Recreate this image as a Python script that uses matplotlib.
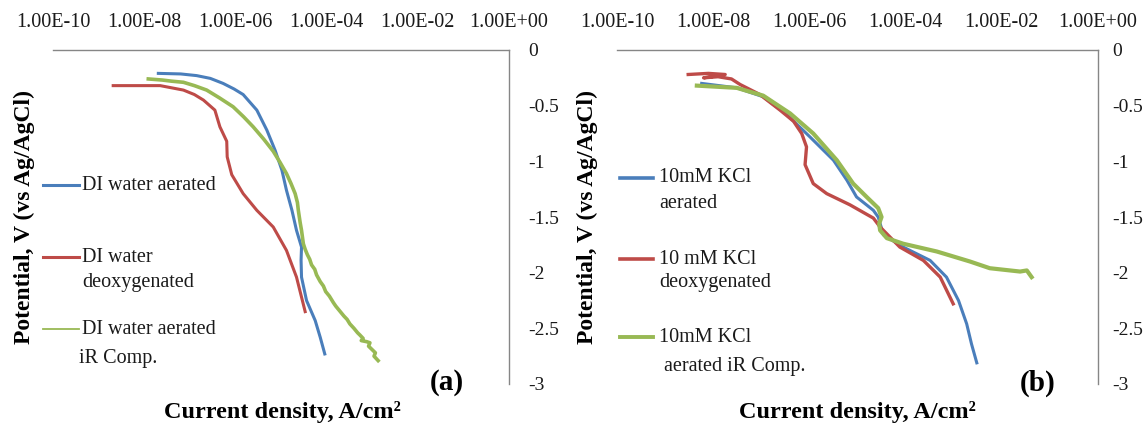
import numpy as np
import matplotlib
matplotlib.use('Agg')
import matplotlib.pyplot as plt
from matplotlib.lines import Line2D
from matplotlib.ticker import FixedLocator, NullLocator

plt.rcParams['font.family'] = ['Liberation Serif', 'DejaVu Serif']
plt.rcParams['axes.unicode_minus'] = False

# ---- data: log10(current density) and potential (V) ----
# panel (a) DI water
a_blue_log = [-7.69, -7.20, -6.85, -6.55, -6.27, -6.03, -5.83, -5.53, -5.31, -5.13,
              -4.98, -4.88, -4.76, -4.66, -4.55, -4.56, -4.55, -4.44, -4.25, -4.14, -4.04]
a_blue_v = [-0.21, -0.215, -0.23, -0.255, -0.30, -0.35, -0.40, -0.54, -0.72, -0.90,
            -1.08, -1.26, -1.44, -1.62, -1.77, -1.89, -2.04, -2.25, -2.43, -2.58, -2.73]

a_red_log = [-8.68, -7.65, -7.14, -6.90, -6.70, -6.45, -6.34, -6.19, -6.18, -6.08,
             -5.83, -5.53, -5.17, -4.88, -4.66, -4.47]
a_red_v = [-0.32, -0.32, -0.36, -0.40, -0.45, -0.54, -0.69, -0.82, -0.96, -1.12,
           -1.29, -1.44, -1.59, -1.80, -2.04, -2.35]

a_green_log = [-7.91, -7.60, -7.40, -7.14, -6.90, -6.63, -6.35, -6.05, -5.82, -5.61,
               -5.38, -5.17, -5.02, -4.88, -4.78, -4.69, -4.64, -4.62, -4.58, -4.55,
               -4.51, -4.47, -4.42, -4.37, -4.33, -4.26, -4.22, -4.14, -4.07, -4.02,
               -3.94, -3.85, -3.80, -3.70, -3.62, -3.55, -3.49, -3.40, -3.32, -3.27,
               -3.20, -3.24, -3.12, -3.05, -3.08, -2.98, -2.93, -2.96, -2.87]
a_green_v = [-0.26, -0.27, -0.28, -0.29, -0.32, -0.36, -0.43, -0.51, -0.60, -0.69,
             -0.80, -0.91, -1.01, -1.11, -1.20, -1.29, -1.37, -1.44, -1.55, -1.62,
             -1.74, -1.79, -1.84, -1.88, -1.93, -1.97, -2.02, -2.08, -2.12, -2.17,
             -2.21, -2.27, -2.30, -2.35, -2.39, -2.42, -2.46, -2.50, -2.54, -2.56,
             -2.59, -2.61, -2.62, -2.63, -2.66, -2.70, -2.72, -2.75, -2.79]

# panel (b) 10 mM KCl
b_blue_log = [-8.24, -7.51, -6.96, -6.47, -5.99, -5.50, -5.22, -5.02, -4.67, -4.57,
              -4.46, -4.05, -3.49, -3.15, -2.90, -2.73, -2.63, -2.52]
b_blue_v = [-0.30, -0.34, -0.42, -0.58, -0.78, -0.99, -1.17, -1.32, -1.44, -1.50,
            -1.66, -1.77, -1.89, -2.04, -2.25, -2.46, -2.64, -2.81]

b_red_log = [-8.52, -8.10, -7.75, -8.20, -7.90, -7.62, -7.44, -7.03, -6.61, -6.33,
             -6.16, -6.06, -6.09, -5.92, -5.64, -5.16, -4.67, -4.53, -4.12, -3.63,
             -3.28, -3.01]
b_red_v = [-0.22, -0.21, -0.22, -0.25, -0.24, -0.26, -0.31, -0.40, -0.54, -0.64,
           -0.75, -0.87, -1.03, -1.20, -1.29, -1.39, -1.51, -1.59, -1.77, -1.89,
           -2.04, -2.28]

b_green_log = [-8.34, -7.51, -6.96, -6.40, -5.92, -5.43, -5.09, -4.81, -4.57, -4.50,
               -4.55, -4.53, -4.39, -4.05, -3.35, -2.66, -2.25, -1.62, -1.48, -1.38]
b_green_v = [-0.32, -0.34, -0.41, -0.57, -0.75, -0.99, -1.20, -1.32, -1.42, -1.50,
             -1.56, -1.62, -1.69, -1.74, -1.81, -1.90, -1.96, -1.99, -1.98, -2.04]

x_ticks = [1e-10, 1e-8, 1e-6, 1e-4, 1e-2, 1e0]
x_tick_labels = ['1.00E-10', '1.00E-08', '1.00E-06', '1.00E-04', '1.00E-02', '1.00E+00']
y_ticks = [0, -0.5, -1, -1.5, -2, -2.5, -3]
y_tick_labels = ['0', '-0.5', '-1', '-1.5', '-2', '-2.5', '-3']

BLUE = '#4A7EBB'
RED = '#BE4B48'
GREEN = '#98B954'
GRAY = '#868686'

W, H = 1147, 424
fig = plt.figure(figsize=(W / 100, H / 100), dpi=100)


def setup(ax, ypad):
    ax.set_xscale('log')
    ax.set_xlim(1e-10, 1e0)
    ax.set_ylim(-3, 0)
    ax.xaxis.set_major_locator(FixedLocator(x_ticks))
    ax.xaxis.set_minor_locator(NullLocator())
    ax.set_xticklabels(x_tick_labels)
    ax.set_yticks(y_ticks)
    ax.set_yticklabels(y_tick_labels)
    ax.xaxis.tick_top()
    ax.yaxis.tick_right()
    ax.tick_params(axis='x', length=0, pad=13, labelsize=14.5, colors='#1a1a1a')
    ax.tick_params(axis='y', length=0, pad=ypad, labelsize=14, colors='#1a1a1a')
    for s in ['left', 'bottom']:
        ax.spines[s].set_visible(False)
    for s in ['top', 'right']:
        ax.spines[s].set_color(GRAY)
        ax.spines[s].set_linewidth(1.0)
    ax.patch.set_alpha(0)


def px(x0, y0, w, h):
    return [x0 / W, 1 - (y0 + h) / H, w / W, h / H]


ax1 = fig.add_axes(px(53, 50, 456, 334))
ax2 = fig.add_axes(px(617, 50, 481, 334))
setup(ax1, 14)
setup(ax2, 10.5)

ax1.plot(10 ** np.array(a_blue_log), a_blue_v, color=BLUE, lw=2.2)
ax1.plot(10 ** np.array(a_red_log), a_red_v, color=RED, lw=2.2)
ax1.plot(10 ** np.array(a_green_log), a_green_v, color=GREEN, lw=2.6)

ax2.plot(10 ** np.array(b_blue_log), b_blue_v, color=BLUE, lw=2.2)
ax2.plot(10 ** np.array(b_red_log), b_red_v, color=RED, lw=2.4)
ax2.plot(10 ** np.array(b_green_log), b_green_v, color=GREEN, lw=3.0)

# axis titles
for cx, lx in [(282, 24), (857, 587)]:
    fig.text(cx / W, 1 - 412 / H, 'Current density, A/cm²', ha='center', va='center',
             fontsize=17.5, fontweight='bold')
    fig.text(lx / W, 1 - 217 / H, 'Potential, V (vs Ag/AgCl)', ha='center', va='center',
             rotation=90, fontsize=17, fontweight='bold')

fig.text(447 / W, 1 - 383 / H, '(a)', ha='center', va='center', fontsize=21, fontweight='bold')
fig.text(1038 / W, 1 - 383 / H, '(b)', ha='center', va='center', fontsize=21, fontweight='bold')

# legends (line sample aligned with the first text line)
legend_a = [
    (BLUE, 2.2, 185, [('DI water aerated', 82, 185)]),
    (RED, 2.2, 257, [('DI water', 82, 258), ('deoxygenated', 82, 282)]),
    (GREEN, 1.3, 329, [('DI water aerated', 82, 330), ('iR Comp.', 79, 359)]),
]
legend_b = [
    (BLUE, 2.6, 178, [('10mM KCl', 659, 178), ('aerated', 659, 203)]),
    (RED, 2.6, 259, [('10 mM KCl', 659, 259), ('deoxygenated', 659, 282)]),
    (GREEN, 2.8, 337, [('10mM KCl', 659, 337), (' aerated iR Comp.', 659, 367)]),
]
for entries, x0, x1 in [(legend_a, 43, 79), (legend_b, 620, 653)]:
    for color, lw, ly, texts in entries:
        fig.add_artist(Line2D([x0 / W, x1 / W], [1 - ly / H, 1 - ly / H], color=color, lw=lw))
        for t, tx, ty in texts:
            fig.text(tx / W, 1 - ty / H, t, ha='left', va='center', fontsize=14.5, color='#1a1a1a')

fig.savefig('out.png', dpi=100)
